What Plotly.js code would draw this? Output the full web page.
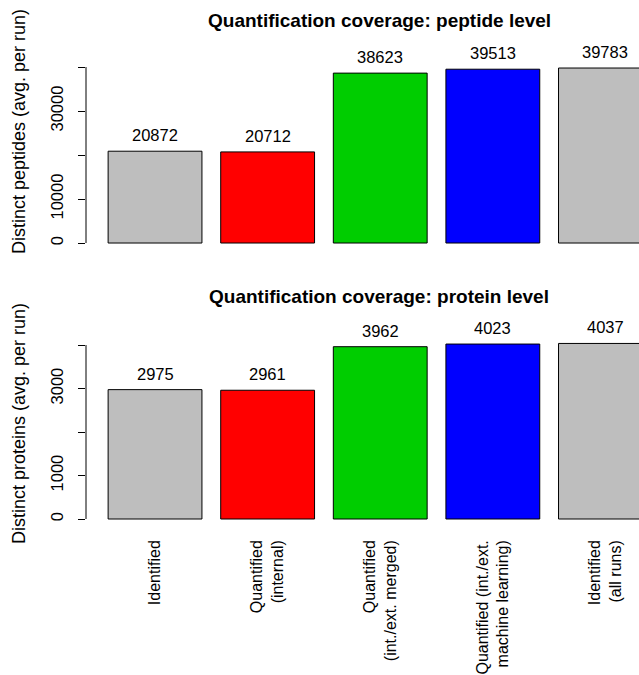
<!DOCTYPE html>
<html>
<head>
<meta charset="utf-8">
<script src="https://cdn.plot.ly/plotly-3.0.1.min.js"></script>
<style>
  html, body { margin: 0; padding: 0; background: #ffffff; }
  #chart { width: 639px; height: 675px; }
</style>
</head>
<body>
<div id="chart"></div>
<script>
// Coverage categories and their axis labels
const categories = [
  'Identified',
  'Quantified (internal)',
  'Quantified (int./ext. merged)',
  'Quantified (int./ext. machine learning)',
  'Identified (all runs)'
];
const categoryLabels = [
  'Identified',
  'Quantified<br>(internal)',
  'Quantified<br>(int./ext. merged)',
  'Quantified (int./ext.<br>machine learning)',
  'Identified<br>(all runs)'
];

// Average number of distinct peptides / proteins per run
const peptideCounts = [20872, 20712, 38623, 39513, 39783];
const proteinCounts = [2975, 2961, 3962, 4023, 4037];

// Y axis ticks (unlabelled ticks keep an empty string)
const peptideTickVals = [0, 10000, 20000, 30000, 40000];
const peptideTickText = ['0', '10000', '', '30000', ''];
const proteinTickVals = [0, 1000, 2000, 3000, 4000];
const proteinTickText = ['0', '1000', '', '3000', ''];

const barColors = ['#BEBEBE', '#FF0000', '#00CD00', '#0000FF', '#BEBEBE'];

const FONT = 'Liberation Sans, Arial, Helvetica, sans-serif';
const W = 639, H = 675;
const plotLeft = 86 / W;
const LABEL_SIZE = 16.5;

function barTrace(values, xa, ya) {
  return {
    type: 'bar',
    x: categories,
    y: values,
    xaxis: xa,
    yaxis: ya,
    marker: { color: barColors, line: { color: '#000000', width: 1 } },
    hoverinfo: 'x+y',
    showlegend: false
  };
}

function valueLabels(values, xa, ya) {
  return values.map((v, i) => ({
    xref: xa, yref: ya,
    x: categories[i], y: v,
    text: String(v),
    showarrow: false,
    yanchor: 'middle',
    yshift: 16,
    font: { family: FONT, size: LABEL_SIZE, color: '#000000' }
  }));
}

function yAxis(domain, range, vals, text, anchor) {
  return {
    domain: domain,
    range: range,
    anchor: anchor,
    tickmode: 'array',
    tickvals: vals,
    ticktext: text,
    tickangle: -90,
    ticks: 'outside',
    ticklen: 7,
    tickwidth: 1,
    tickcolor: '#000000',
    ticklabelstandoff: 8,
    tickfont: { family: FONT, size: LABEL_SIZE, color: '#000000' },
    showline: false,
    showgrid: false,
    zeroline: false,
    fixedrange: true
  };
}

const xRange = [-0.613, 4.298];

const layout = {
  width: W,
  height: H,
  margin: { l: 0, r: 0, t: 0, b: 0, autoexpand: false },
  paper_bgcolor: '#ffffff',
  plot_bgcolor: '#ffffff',
  bargap: 1 / 6,
  font: { family: FONT, size: LABEL_SIZE, color: '#000000' },
  xaxis: {
    domain: [plotLeft, 1],
    range: xRange,
    anchor: 'y',
    type: 'category',
    showticklabels: false,
    ticks: '',
    showline: false,
    showgrid: false,
    zeroline: false,
    fixedrange: true
  },
  xaxis2: {
    domain: [plotLeft, 1],
    range: xRange,
    anchor: 'y2',
    type: 'category',
    tickmode: 'array',
    tickvals: categories,
    ticktext: categoryLabels,
    tickangle: -90,
    ticks: '',
    ticklabelstandoff: 10,
    tickfont: { family: FONT, size: 16, color: '#000000' },
    showline: false,
    showgrid: false,
    zeroline: false,
    fixedrange: true
  },
  yaxis: yAxis([0.6296, 0.9096], [-1591, 41374], peptideTickVals, peptideTickText, 'x'),
  yaxis2: yAxis([0.2207, 0.5016], [-161.5, 4198.5], proteinTickVals, proteinTickText, 'x2'),
  shapes: [
    { type: 'line', xref: 'paper', yref: 'y', x0: plotLeft, x1: plotLeft,
      y0: peptideTickVals[0], y1: peptideTickVals[peptideTickVals.length - 1],
      line: { color: '#000000', width: 1 } },
    { type: 'line', xref: 'paper', yref: 'y2', x0: plotLeft, x1: plotLeft,
      y0: proteinTickVals[0], y1: proteinTickVals[proteinTickVals.length - 1],
      line: { color: '#000000', width: 1 } }
  ],
  annotations: [
    { xref: 'paper', yref: 'paper', x: 379 / W, y: 1 - 20 / H,
      text: '<b>Quantification coverage: peptide level</b>', showarrow: false,
      xanchor: 'center', yanchor: 'middle',
      font: { family: FONT, size: 19, color: '#000000' } },
    { xref: 'paper', yref: 'paper', x: 379 / W, y: 1 - 297 / H,
      text: '<b>Quantification coverage: protein level</b>', showarrow: false,
      xanchor: 'center', yanchor: 'middle',
      font: { family: FONT, size: 19, color: '#000000' } },
    { xref: 'paper', yref: 'paper', x: 19 / W, y: 1 - 132 / H,
      text: 'Distinct peptides (avg. per run)', showarrow: false, textangle: -90,
      xanchor: 'center', yanchor: 'middle',
      font: { family: FONT, size: 18, color: '#000000' } },
    { xref: 'paper', yref: 'paper', x: 19 / W, y: 1 - 424 / H,
      text: 'Distinct proteins (avg. per run)', showarrow: false, textangle: -90,
      xanchor: 'center', yanchor: 'middle',
      font: { family: FONT, size: 18, color: '#000000' } }
  ].concat(valueLabels(peptideCounts, 'x', 'y'), valueLabels(proteinCounts, 'x2', 'y2'))
};

Plotly.newPlot('chart',
  [barTrace(peptideCounts, 'x', 'y'), barTrace(proteinCounts, 'x2', 'y2')],
  layout,
  { displayModeBar: false, staticPlot: true });
</script>
</body>
</html>
